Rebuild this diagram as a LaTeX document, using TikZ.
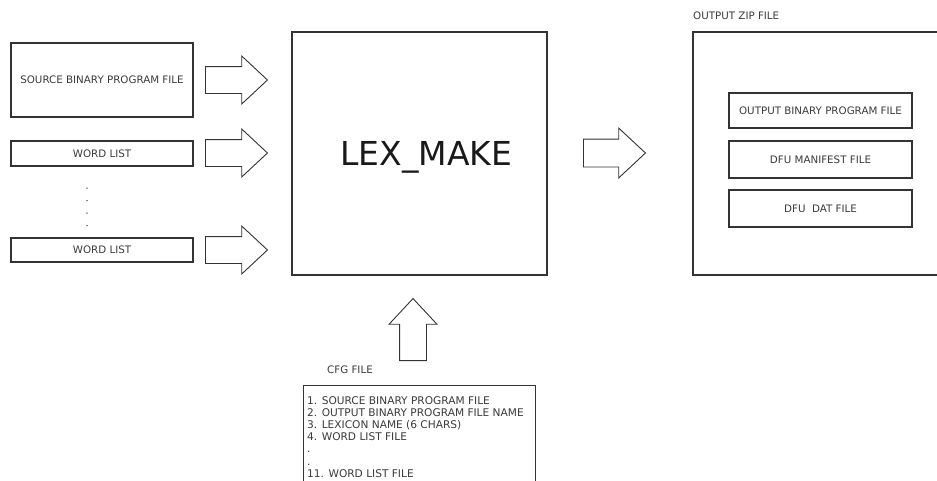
\documentclass[tikz,border=0pt]{standalone}
\usepackage{fontspec}
\setmainfont{DejaVu Sans}
\usetikzlibrary{shapes.arrows,positioning}
\definecolor{lmline}{HTML}{333333}
\definecolor{lmtext}{HTML}{3A3A3A}
\newcommand{\lmsmall}{\fontsize{10.3}{12.1}\selectfont}
\newcommand{\lmlist}{\fontsize{10.6}{12.1}\selectfont}
\tikzset{
lmbox/.style={rectangle,draw=lmline,line width=1.2pt,inner sep=0pt,align=center,text=lmtext,font=\lmsmall},
lmarrow/.style={single arrow,draw=lmline,line width=0.9pt,fill=white,inner xsep=0pt,inner ysep=13pt,minimum height=62pt,single arrow head extend=10.5pt,single arrow tip angle=86,anchor=tail},
lmlabel/.style={inner sep=0pt,text=lmtext,font=\lmsmall},
lmdot/.style={circle,fill=lmtext,inner sep=0pt,minimum size=1.5pt}
}

\begin{document}
\begin{tikzpicture}[x=1pt,y=-1pt]
\useasboundingbox (0,0) rectangle (937,480);
% inputs
\node[lmbox,minimum width=182pt,minimum height=74pt] (source) at (102,80) {SOURCE BINARY PROGRAM FILE};
\node[lmbox,minimum width=182pt,minimum height=25pt] (words1) at (102,153.5) {WORD LIST};
\node[lmbox,minimum width=182pt,minimum height=24pt] (words2) at (102,250) {WORD LIST};
\node[lmdot] (dot1) at (87,188) {};
\node[lmdot] (dot2) at (87,200.5) {};
\node[lmdot] (dot3) at (87,213) {};
\node[lmdot] (dot4) at (87,225.5) {};
\node[lmarrow] (arrsource) at (205,80) {};
\node[lmarrow] (arrwords1) at (205,153) {};
\node[lmarrow] (arrwords2) at (205,250) {};
% tool
\node[lmbox,minimum width=255pt,minimum height=243pt] (lex) at (419.5,153.5) {};
\node[inner sep=0pt,text=black!90,font=\fontsize{33}{36}\selectfont,text height=24pt,text depth=0pt]
  (lextitle) at (426.5,153) {LEX\_MAKE};
\node[lmarrow,inner ysep=13.5pt,single arrow head extend=11pt] (arrout) at (583,153) {};
% zip
\node[lmbox,minimum width=255pt,minimum height=243pt] (zip) at (820.5,153.5) {};
\node[lmlabel,anchor=base west] (ziptitle) at (693,19) {OUTPUT ZIP FILE};
\node[lmbox,minimum width=183pt,minimum height=35pt] (outbin) at (820.5,110.5) {OUTPUT BINARY PROGRAM FILE};
\node[lmbox,minimum width=183pt,minimum height=37pt] (manifest) at (820.5,159.5) {DFU MANIFEST FILE};
\node[lmbox,minimum width=183pt,minimum height=37pt] (datfile) at (820.5,208.5) {DFU\ \ DAT FILE};
% config
\node[lmarrow,rotate=90] (arrcfg) at (413,361) {};
\node[lmlabel,anchor=base] (cfgtitle) at (350,373) {CFG FILE};
\node[lmbox,anchor=north west,minimum width=232pt,minimum height=100pt] (cfg) at (303,385) {};
\node[lmlabel,anchor=north west,align=left,font=\lmlist] (cfglist) at (307,396.5)
  {1. SOURCE BINARY PROGRAM FILE\\2. OUTPUT BINARY PROGRAM FILE NAME\\3. LEXICON NAME (6 CHARS)\\4. WORD LIST FILE\\.\\.\\11. WORD LIST FILE};
\end{tikzpicture}
\end{document}
